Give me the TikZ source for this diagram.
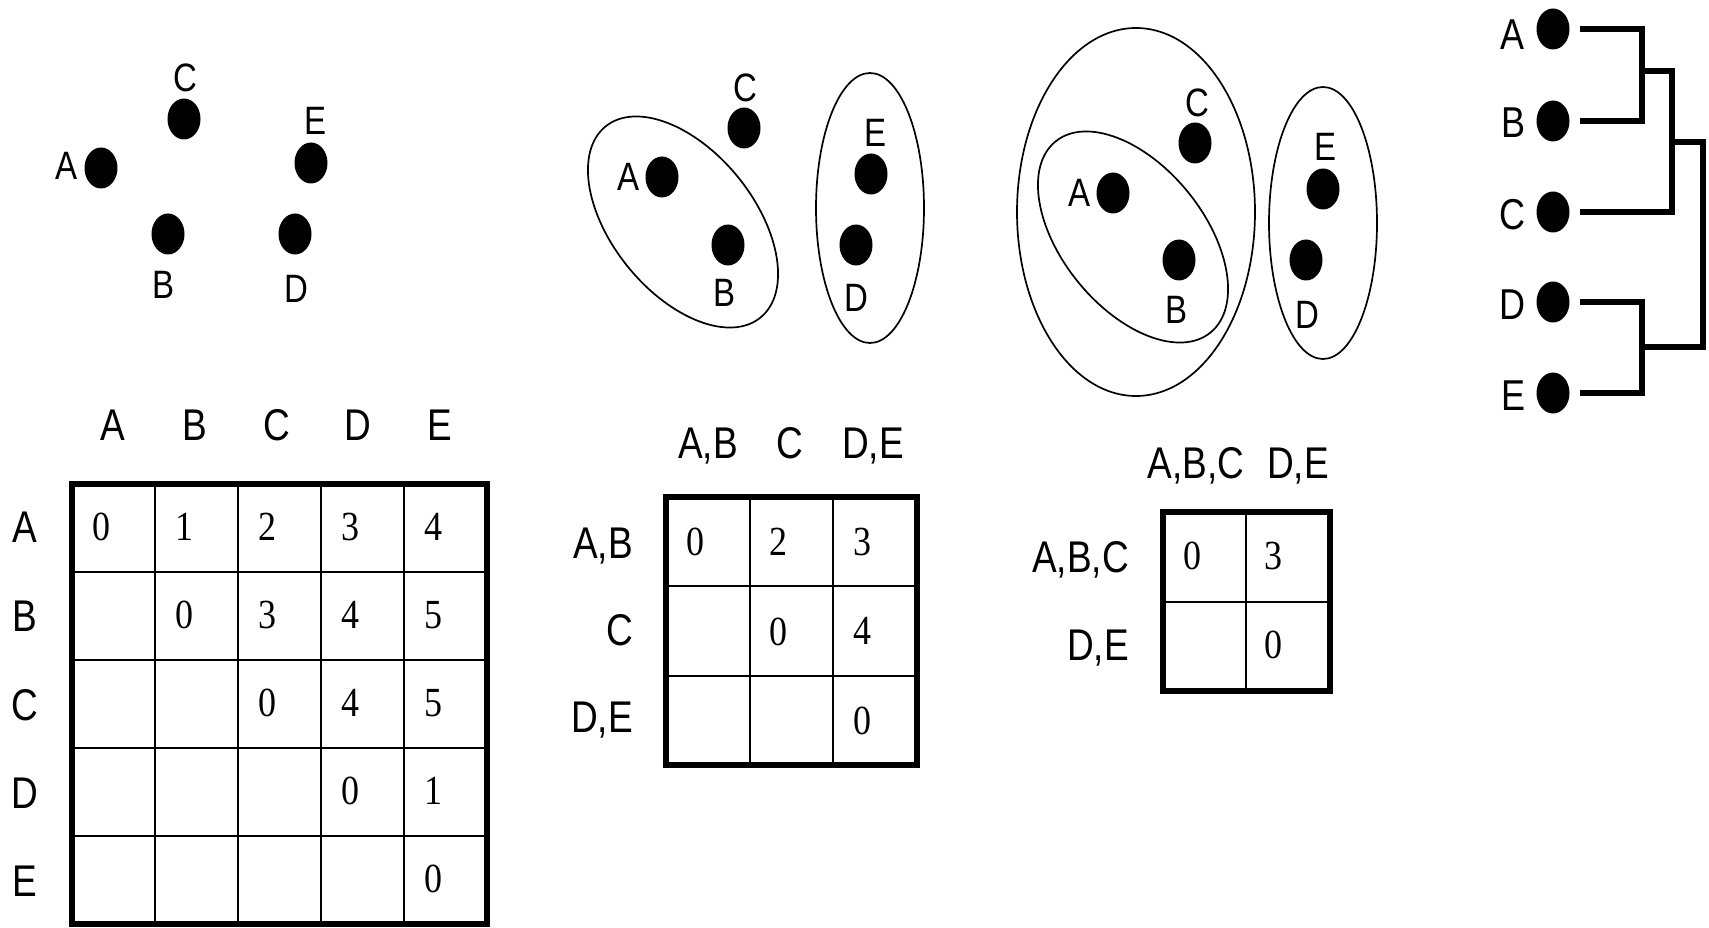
\documentclass[tikz,border=0pt]{standalone}
\usepackage{fontspec}
\usepackage{graphicx}
\setmainfont{Liberation Sans}
\newfontfamily\numfont{Liberation Serif}
\usetikzlibrary{shapes.geometric}
\newcommand\stt[1]{\scalebox{1}[1.2]{#1}}
\newcommand\stn[1]{\scalebox{1}[1.15]{#1}}
\tikzset{
  dot/.style={ellipse, fill=black, minimum width=33pt, minimum height=41pt, inner sep=0pt},
  lbl/.style={font=\fontsize{33}{33}\selectfont, inner sep=0pt, text depth=0pt},
  tlbl/.style={font=\fontsize{37}{37}\selectfont, inner sep=0pt, text depth=0pt},
  dlbl/.style={font=\fontsize{36}{36}\selectfont, inner sep=0pt, text depth=0pt},
  num/.style={font=\numfont\fontsize{36}{36}\selectfont, inner sep=0pt, text depth=0pt},
  grp/.style={line width=1.7pt},
  gridline/.style={line width=2pt},
  frame/.style={line width=5.5pt},
  dend/.style={line width=6pt, line join=miter},
}
\begin{document}
\begin{tikzpicture}[x=1pt,y=-1pt]
\path[use as bounding box] (0,0) rectangle (1709,928);

% ---------- panel 1: points ----------
\node[dot] (p1A) at (101,168) {};
\node[dot] (p1B) at (168,234) {};
\node[dot] (p1C) at (184,119) {};
\node[dot] (p1D) at (295,234) {};
\node[dot] (p1E) at (311,163) {};
\node[lbl] (p1Al) at (67,166) {\stt{A}};
\node[lbl] (p1Bl) at (164,285) {\stt{B}};
\node[lbl] (p1Cl) at (185,78) {\stt{C}};
\node[lbl] (p1Dl) at (296,289) {\stt{D}};
\node[lbl] (p1El) at (316,121) {\stt{E}};

% ---------- panel 2 ----------
\draw[grp] (683,222) ellipse [x radius=123pt, y radius=71pt, rotate=-51];
\draw[grp] (870,208) ellipse [x radius=54pt, y radius=135pt];
\node[dot] (p2A) at (662,177) {};
\node[dot] (p2B) at (728,245) {};
\node[dot] (p2C) at (744,128) {};
\node[dot] (p2D) at (856,245) {};
\node[dot] (p2E) at (871,174) {};
\node[lbl] (p2Al) at (628,177) {\stt{A}};
\node[lbl] (p2Bl) at (724,293) {\stt{B}};
\node[lbl] (p2Cl) at (745,88) {\stt{C}};
\node[lbl] (p2Dl) at (856,298) {\stt{D}};
\node[lbl] (p2El) at (875,133) {\stt{E}};

% ---------- panel 3 ----------
\draw[grp] (1136,212) ellipse [x radius=119pt, y radius=184pt];
\draw[grp] (1133,237) ellipse [x radius=123pt, y radius=71pt, rotate=-51];
\draw[grp] (1323,223) ellipse [x radius=54pt, y radius=136pt];
\node[dot] (p3A) at (1113,193) {};
\node[dot] (p3B) at (1179,260) {};
\node[dot] (p3C) at (1195,143) {};
\node[dot] (p3D) at (1306,260) {};
\node[dot] (p3E) at (1323,189) {};
\node[lbl] (p3Al) at (1079,193) {\stt{A}};
\node[lbl] (p3Bl) at (1176,310) {\stt{B}};
\node[lbl] (p3Cl) at (1197,103) {\stt{C}};
\node[lbl] (p3Dl) at (1307,315) {\stt{D}};
\node[lbl] (p3El) at (1325,147) {\stt{E}};

% ---------- panel 4: dendrogram ----------
\node[dot] (dA) at (1553,29) {};
\node[dot] (dB) at (1553,121) {};
\node[dot] (dC) at (1553,212) {};
\node[dot] (dD) at (1553,302) {};
\node[dot] (dE) at (1553,393) {};
\node[dlbl] (dAl) at (1512,35) {\stt{A}};
\node[dlbl] (dBl) at (1513,123) {\stt{B}};
\node[dlbl] (dCl) at (1512,214) {\stt{C}};
\node[dlbl] (dDl) at (1512,305) {\stt{D}};
\node[dlbl] (dEl) at (1513,396) {\stt{E}};
\coordinate (mAB) at (1642,71);
\coordinate (mABC) at (1672,142);
\coordinate (mDE) at (1642,347);
\coordinate (root) at (1703,244);
\draw[dend] ([xshift=10pt]dA.east) -| (mAB) |- ([xshift=10pt]dB.east);
\draw[dend] (mAB) -| (mABC) |- ([xshift=10pt]dC.east);
\draw[dend] ([xshift=10pt]dD.east) -| (mDE) |- ([xshift=10pt]dE.east);
\draw[dend] (mABC) -| (root) |- (mDE);

% ---------- table 1 ----------
\foreach \i in {1,...,4} {
  \draw[gridline] (72+83*\i,484) -- (72+83*\i,924);
  \draw[gridline] (72,484+88*\i) -- (487,484+88*\i);
}
\draw[frame] (72,484) rectangle (487,924);
\node[tlbl] (t1hA) at (113,425) {\stt{A}};
\node[tlbl] (t1hB) at (195,425) {\stt{B}};
\node[tlbl] (t1hC) at (277,425) {\stt{C}};
\node[tlbl] (t1hD) at (358,425) {\stt{D}};
\node[tlbl] (t1hE) at (440,425) {\stt{E}};
\node[tlbl] (t1rA) at (25,527) {\stt{A}};
\node[tlbl] (t1rB) at (25,616) {\stt{B}};
\node[tlbl] (t1rC) at (25,705) {\stt{C}};
\node[tlbl] (t1rD) at (25,793) {\stt{D}};
\node[tlbl] (t1rE) at (25,881) {\stt{E}};
\foreach \r/\c/\v in {0/0/0,0/1/1,0/2/2,0/3/3,0/4/4,
                      1/1/0,1/2/3,1/3/4,1/4/5,
                      2/2/0,2/3/4,2/4/5,
                      3/3/0,3/4/1,
                      4/4/0} {
  \node[num] (t1n\r\c) at (72+83*\c+29,484+88*\r+43) {\stn{\v}};
}

% ---------- table 2 ----------
\foreach \i in {1,2} {
  \draw[gridline] (666+83.7*\i,497) -- (666+83.7*\i,765);
  \draw[gridline] (666,497+89.3*\i) -- (917,497+89.3*\i);
}
\draw[frame] (666,497) rectangle (917,765);
\node[tlbl] (t2hAB) at (708,443) {\stt{A,B}};
\node[tlbl] (t2hC) at (790,443) {\stt{C}};
\node[tlbl] (t2hDE) at (873,443) {\stt{D,E}};
\node[tlbl, anchor=east] (t2rAB) at (633,543) {\stt{A,B}};
\node[tlbl, anchor=east] (t2rC) at (633,630) {\stt{C}};
\node[tlbl, anchor=east] (t2rDE) at (633,717) {\stt{D,E}};
\foreach \r/\c/\v in {0/0/0,0/1/2,0/2/3,1/1/0,1/2/4,2/2/0} {
  \node[num] (t2n\r\c) at (666+83.7*\c+29,497+89.3*\r+45) {\stn{\v}};
}

% ---------- table 3 ----------
\draw[gridline] (1246,512) -- (1246,691);
\draw[gridline] (1163,602) -- (1330,602);
\draw[frame] (1163,512) rectangle (1330,691);
\node[tlbl] (t3hABC) at (1196,463) {\stt{A,B,C}};
\node[tlbl] (t3hDE) at (1298,463) {\stt{D,E}};
\node[tlbl, anchor=east] (t3rABC) at (1129,557) {\stt{A,B,C}};
\node[tlbl, anchor=east] (t3rDE) at (1129,645) {\stt{D,E}};
\node[num] (t3n00) at (1192,556) {\stn{0}};
\node[num] (t3n01) at (1273,556) {\stn{3}};
\node[num] (t3n11) at (1273,645) {\stn{0}};
\end{tikzpicture}
\end{document}
